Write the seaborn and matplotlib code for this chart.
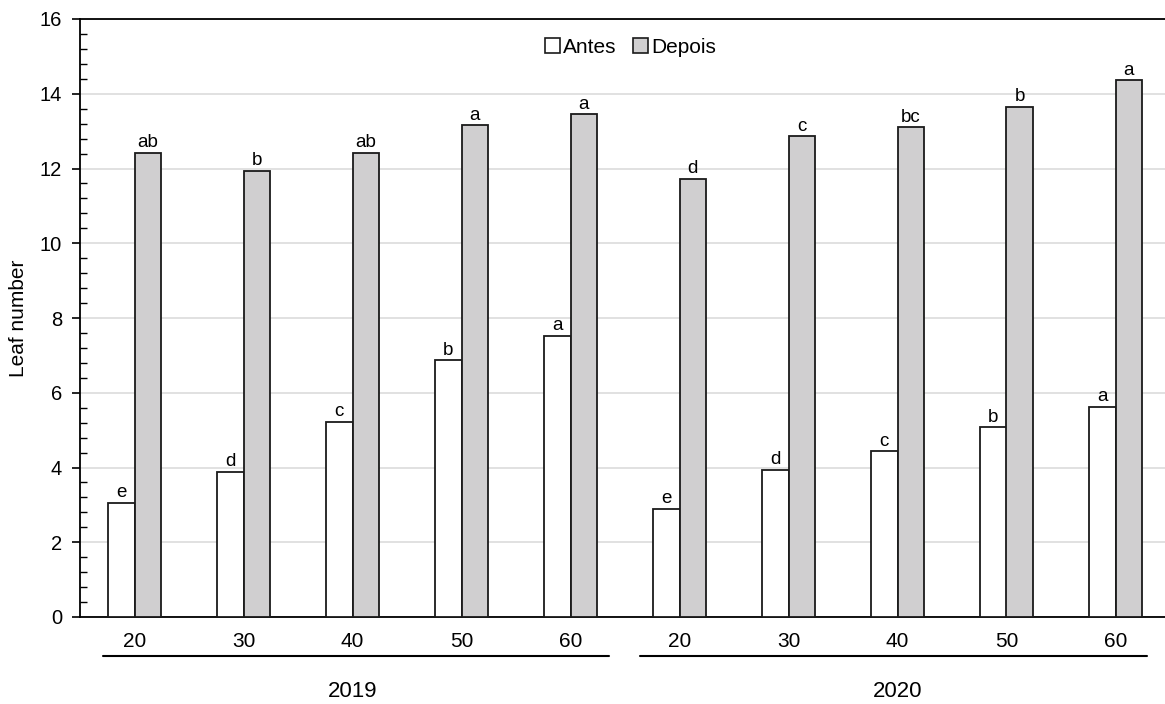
import numpy as np
import pandas as pd
import matplotlib
matplotlib.use("Agg")
import matplotlib.pyplot as plt
from matplotlib.patches import Patch
from matplotlib.ticker import MultipleLocator
import seaborn as sns

# dados
years = ["2019", "2020"]
doses = ["20", "30", "40", "50", "60"]
antes_2019 = [3.06, 3.89, 5.22, 6.87, 7.52]
antes_2020 = [2.89, 3.94, 4.44, 5.08, 5.62]
depois_2019 = [12.42, 11.94, 12.42, 13.16, 13.45]
depois_2020 = [11.72, 12.86, 13.10, 13.65, 14.36]
letras_antes = ["e", "d", "c", "b", "a", "e", "d", "c", "b", "a"]
letras_depois = ["ab", "b", "ab", "a", "a", "d", "c", "bc", "b", "a"]

grupos = [f"{y}-{d}" for y in years for d in doses]
df = pd.DataFrame({
    "grupo": grupos * 2,
    "momento": ["Antes"] * 10 + ["Depois"] * 10,
    "valor": antes_2019 + antes_2020 + depois_2019 + depois_2020,
})

sns.set_style("white")
plt.rcParams["font.family"] = ["Liberation Sans", "DejaVu Sans"]
plt.rcParams["text.color"] = "black"
plt.rcParams["axes.labelcolor"] = "black"

fig = plt.figure(figsize=(11.65, 7.04), dpi=100)
ax = fig.add_axes([80 / 1165, 87 / 704, 1090 / 1165, 598 / 704])

sns.barplot(data=df, x="grupo", y="valor", hue="momento", order=grupos,
            hue_order=["Antes", "Depois"],
            palette={"Antes": "white", "Depois": "#d0cfd0"},
            width=0.486, edgecolor="#1a1a1a", linewidth=1.3,
            errorbar=None, legend=False, ax=ax, zorder=3)

ax.set_xlim(-0.5, 9.5)
ax.set_ylim(0, 16)
ax.yaxis.set_major_locator(MultipleLocator(2))
ax.yaxis.set_minor_locator(MultipleLocator(0.4))
ax.grid(axis="y", color="#d9d9d9", linewidth=1.1, zorder=0)
ax.set_axisbelow(True)
for s in ["left", "bottom", "top"]:
    ax.spines[s].set_color("black")
    ax.spines[s].set_linewidth(1.3)
ax.spines["right"].set_visible(False)
ax.tick_params(axis="y", which="major", direction="out", length=6, width=1.2,
               labelsize=14.5, colors="black", left=True, pad=7)
ax.tick_params(axis="y", which="minor", direction="in", length=5, width=1.0,
               left=True, colors="black")
ax.tick_params(axis="x", length=0, labelsize=15, pad=11, colors="black")
ax.set_xticks(range(10))
ax.set_xticklabels(doses * 2)
ax.set_xlabel("")
ax.set_ylabel("Leaf number", fontsize=15, labelpad=8)

# letras acima das barras
letras = letras_antes + letras_depois
for bar, letra in zip(ax.patches, letras):
    ax.text(bar.get_x() + bar.get_width() / 2, bar.get_height() + 0.04, letra,
            ha="center", va="bottom", fontsize=13.5)

# linhas e rótulos dos anos
trans = ax.get_xaxis_transform()
ax.plot([-0.29, 4.35], [-0.066, -0.066], color="black", lw=1.5,
        transform=trans, clip_on=False)
ax.plot([4.64, 9.29], [-0.066, -0.066], color="black", lw=1.5,
        transform=trans, clip_on=False)
ax.text(2, -0.124, "2019", transform=trans, ha="center", va="center", fontsize=16)
ax.text(7, -0.124, "2020", transform=trans, ha="center", va="center", fontsize=16)

handles = [Patch(facecolor="white", edgecolor="#1a1a1a", lw=1.2, label="Antes"),
           Patch(facecolor="#d0cfd0", edgecolor="#1a1a1a", lw=1.2, label="Depois")]
ax.legend(handles=handles, loc="center", bbox_to_anchor=(0.505, 0.953),
          ncol=2, frameon=False, fontsize=15, handlelength=0.7,
          handleheight=0.7, handletextpad=0.15, columnspacing=0.8)

fig.savefig("out.png", dpi=100)
